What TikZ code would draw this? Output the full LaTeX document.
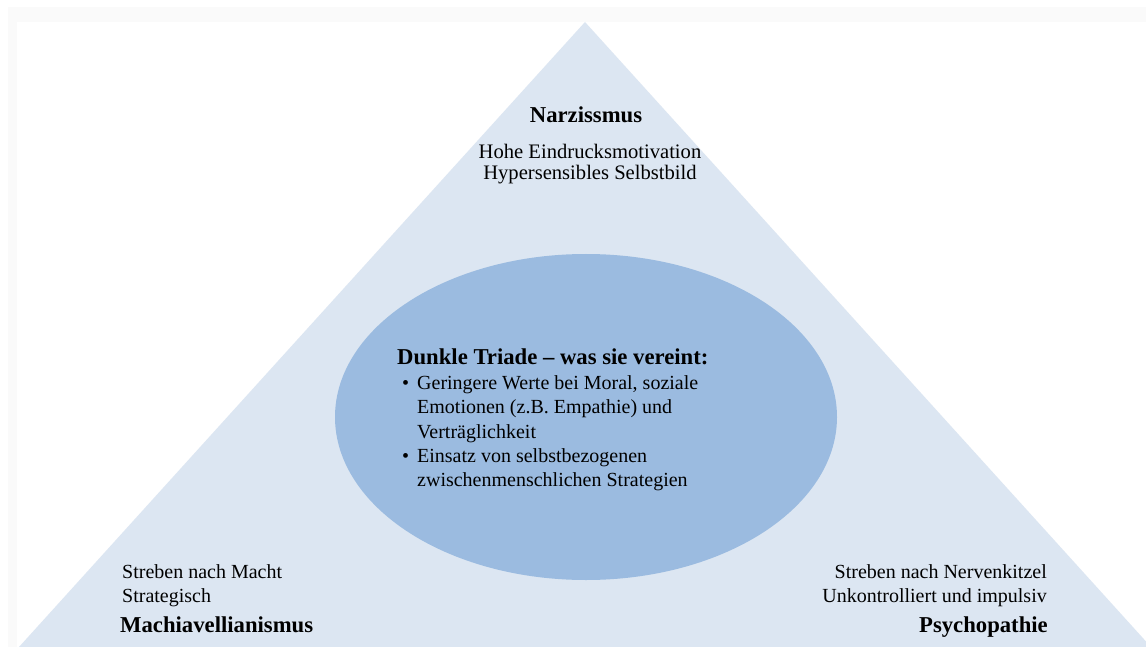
\documentclass[tikz,border=0pt]{standalone}
\usepackage{fontspec}
\setmainfont{Liberation Serif}
\usepackage{tikz}

\definecolor{triback}{HTML}{DCE6F2}
\definecolor{trimid}{HTML}{9BBBE0}
\definecolor{shotframe}{HTML}{FAFAFA}

\begin{document}
\begin{tikzpicture}[x=1pt,y=-1pt,
  every node/.style={inner sep=0pt,font=\fontsize{20}{24.4}\selectfont},
  head/.style={font=\fontsize{22.7}{26}\selectfont\bfseries}]
  \useasboundingbox (0,0) rectangle (1146,647);
  \fill[shotframe] (8,7) rectangle (1146,647);
  \fill[white] (17,22) rectangle (1146,647);
  \fill[triback] (585,22) -- (1151,647) -- (19,647) -- cycle;
  \fill[trimid] (586,417) ellipse [x radius=251, y radius=163];

  \node (narz)[head,anchor=base] at (586,123) {Narzissmus};
  \node (narztext)[align=center,anchor=north,font=\fontsize{20.6}{21.5}\selectfont] at (590,144)
    {Hohe Eindrucksmotivation\\Hypersensibles Selbstbild};

  \node (triade)[align=left,anchor=north west] at (397,349)
    {{\fontsize{22.7}{26}\selectfont\bfseries Dunkle Triade – was sie vereint:}\\
     \hspace*{5pt}\makebox[15pt][l]{\textbullet}Geringere Werte bei Moral, soziale\\
     \hspace*{20pt}Emotionen (z.B. Empathie) und\\
     \hspace*{20pt}Verträglichkeit\\
     \hspace*{5pt}\makebox[15pt][l]{\textbullet}Einsatz von selbstbezogenen\\
     \hspace*{20pt}zwischenmenschlichen Strategien};

  \node (machtext)[align=left,anchor=north west] at (122,564)
    {Streben nach Macht\\Strategisch};
  \node (mach)[head,anchor=base west] at (120,632) {Machiavellianismus};

  \node (psychotext)[align=right,anchor=north east] at (1047,564)
    {Streben nach Nervenkitzel\\Unkontrolliert und impulsiv};
  \node (psycho)[head,anchor=base east] at (1048,632) {Psychopathie};
\end{tikzpicture}
\end{document}
